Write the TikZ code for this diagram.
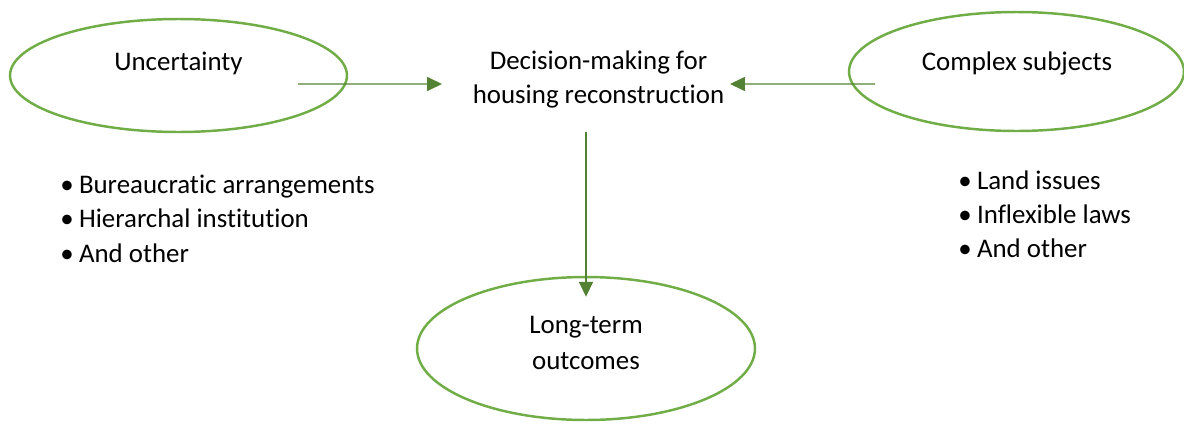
\documentclass[tikz,border=0pt]{standalone}
\usepackage{fontspec}
\setmainfont[Ligatures=NoCommon]{Carlito}
\usetikzlibrary{arrows.meta,positioning,shapes.geometric,calc}
\definecolor{ovalgreen}{RGB}{112,173,71}
\definecolor{arrowgreen}{RGB}{84,130,53}

\begin{document}
\begin{tikzpicture}[x=0.02cm,y=-0.02cm,
    oval/.style={ellipse,draw=ovalgreen,line width=1.4pt,inner sep=0pt},
    lbl/.style={font=\fontsize{15.3}{19}\selectfont,align=center,inner sep=0pt,anchor=base},
    items/.style={font=\fontsize{15.3}{19.4}\selectfont,align=left,inner sep=0pt,anchor=base west},
    flow/.style={arrowgreen,line width=0.75pt,-{Triangle[length=8.5pt,width=8pt]}}]
    \useasboundingbox (0,0) rectangle (1184,423);
    % ovals
    \node[oval,minimum width=6.74cm,minimum height=2.26cm] (unc) at (178.5,75.5) {};
    \node[oval,minimum width=6.7cm,minimum height=2.38cm] (cpx) at (1016.5,71.5) {};
    \node[oval,minimum width=6.76cm,minimum height=2.86cm] (lto) at (586,348.5) {};
    % labels
    \node[lbl] (uncT) at (178.5,70) {Uncertainty};
    \node[lbl] (cpxT) at (1017,70) {Complex subjects};
    \node[lbl] (dec) at (598.5,103) {Decision-making for\\housing reconstruction};
    \node[lbl,font=\fontsize{15.3}{20.4}\selectfont] (ltoT) at (586,369.5) {Long-term\\outcomes};
    % bullet lists
    \node[items] (uncL) at (60,262) {\textbullet\hspace{3pt}Bureaucratic arrangements\\\textbullet\hspace{3pt}Hierarchal institution\\\textbullet\hspace{3pt}And other};
    \node[items] (cpxL) at (958,257.5) {\textbullet\hspace{3pt}Land issues\\\textbullet\hspace{3pt}Inflexible laws\\\textbullet\hspace{3pt}And other};
    % arrow ends at the decision text
    \coordinate (decL) at (442,84);
    \coordinate (decR) at (730,84);
    \coordinate (decB) at (586,132);
    \draw[flow] ($(unc.center)+(119.5,8.5)$) -- (decL);
    \draw[flow] ($(cpx.center)+(-141.5,12.5)$) -- (decR);
    \draw[flow] (decB) -- ($(lto.north)+(0,21)$);
\end{tikzpicture}
\end{document}
